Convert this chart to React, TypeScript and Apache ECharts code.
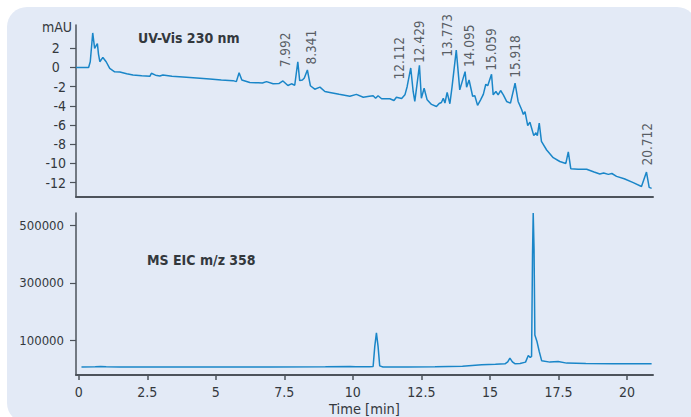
import React, { useEffect, useRef } from "react";
import * as echarts from "echarts";

// ---------- data ----------
// UV-Vis 230 nm trace: [time (min), absorbance (mAU)]
const uvTrace: [number, number][] = [
  [-0.1, 0.0], [0.36, 0.0], [0.42, 0.6], [0.51, 3.6], [0.58, 2.0], [0.62, 2.2], [0.68, 2.5],
  [0.72, 1.4], [0.77, 0.6], [0.88, 1.05], [1.0, 0.6], [1.13, -0.1], [1.31, -0.45], [1.5, -0.47],
  [1.75, -0.65], [1.98, -0.78], [2.3, -0.85], [2.6, -0.9], [2.65, -0.6], [2.8, -0.8], [2.96, -0.88],
  [3.07, -0.78], [3.4, -0.92], [3.8, -1.0], [4.3, -1.1], [4.78, -1.2], [5.2, -1.3], [5.63, -1.37],
  [5.75, -1.47], [5.85, -0.54], [5.95, -1.3], [6.24, -1.57], [6.55, -1.6], [6.7, -1.62], [6.85, -1.47],
  [7.09, -1.7], [7.3, -1.68], [7.45, -1.4], [7.63, -1.88], [7.76, -1.7], [7.88, -1.85], [7.992, 0.6],
  [8.06, -1.37], [8.16, -1.3], [8.23, -1.1], [8.341, -0.26], [8.45, -1.9], [8.61, -2.26], [8.8, -2.05],
  [8.98, -2.5], [9.16, -2.6], [9.5, -2.8], [9.89, -3.0], [10.13, -2.8], [10.38, -3.1], [10.6, -3.0],
  [10.74, -2.95], [10.83, -3.2], [10.92, -2.95], [11.05, -3.26], [11.35, -3.26], [11.5, -3.44],
  [11.59, -3.1], [11.78, -3.23], [11.9, -2.85], [11.98, -2.0], [12.112, -0.05], [12.2, -2.5],
  [12.26, -3.54], [12.33, -2.0], [12.429, 0.22], [12.5, -3.2], [12.6, -2.16], [12.71, -3.37],
  [12.87, -3.85], [13.05, -4.06], [13.15, -3.75], [13.23, -3.65], [13.3, -3.2], [13.36, -3.7],
  [13.44, -2.6], [13.54, -3.78], [13.62, -2.0], [13.773, 1.81], [13.9, -2.33], [14.095, -0.43],
  [14.15, -2.05], [14.24, -1.3], [14.37, -3.0], [14.45, -2.95], [14.55, -3.95], [14.66, -3.37],
  [14.76, -2.8], [14.85, -1.75], [14.92, -1.9], [15.059, -0.7], [15.12, -2.85], [15.22, -2.5],
  [15.3, -2.85], [15.39, -2.4], [15.49, -2.85], [15.61, -3.54], [15.75, -3.72], [15.918, -1.64],
  [16.03, -3.54], [16.16, -4.4], [16.22, -4.9], [16.28, -4.6], [16.38, -6.06], [16.46, -5.7],
  [16.6, -7.1], [16.68, -6.8], [16.73, -7.1], [16.8, -5.8], [16.88, -7.7], [17.07, -8.6],
  [17.31, -9.4], [17.55, -9.8], [17.77, -10.0], [17.86, -8.8], [17.95, -10.55], [18.22, -10.6],
  [18.53, -10.6], [18.8, -10.9], [19.01, -11.1], [19.15, -11.0], [19.32, -11.14], [19.45, -11.05],
  [19.62, -11.35], [19.9, -11.6], [20.23, -12.0], [20.53, -12.4], [20.712, -10.9], [20.81, -12.5],
  [20.9, -12.6],
];

// MS EIC m/z 358 trace: [time (min), intensity]
const msTrace: [number, number][] = [
  [0.1, 6000], [0.6, 6500], [0.8, 7500], [1.0, 6500], [1.5, 6000], [3.0, 6000], [5.0, 6000],
  [7.0, 6000], [9.0, 6500], [9.9, 7500], [10.1, 6500], [10.6, 6500], [10.74, 8000], [10.8, 78000],
  [10.86, 125400], [10.92, 78000], [10.98, 10000], [11.1, 6000], [12.0, 6000], [13.0, 6500],
  [14.0, 8500], [14.7, 13500], [15.2, 15500], [15.55, 17000], [15.65, 24000], [15.73, 36700],
  [15.82, 24000], [15.91, 17500], [16.1, 18500], [16.3, 23000], [16.4, 46000], [16.47, 39000],
  [16.52, 43000], [16.555, 400000], [16.58, 544000], [16.61, 420000], [16.64, 118000],
  [16.72, 94000], [16.8, 60000], [16.89, 27400], [17.19, 23000], [17.49, 25400], [17.8, 19500],
  [18.5, 18500], [19.5, 17500], [20.9, 17000],
];

// labelled UV peaks (retention times)
const uvPeakTimes: number[] = [7.992, 8.341, 12.112, 12.429, 13.773, 14.095, 15.059, 15.918, 20.712];
const uvPeakLabels: string[] = ["7.992", "8.341", "12.112", "12.429", "13.773", "14.095", "15.059", "15.918", "20.712"];

// axis ticks
const xTickValues: number[] = [0, 2.5, 5, 7.5, 10, 12.5, 15, 17.5, 20];
const xTickLabels: string[] = ["0", "2.5", "5", "7.5", "10", "12.5", "15", "17.5", "20"];
const uvTickValues: number[] = [-12, -10, -8, -6, -4, -2, 0, 2];
const msTickValues: number[] = [100000, 300000, 500000];

// ---------- layout / style ----------
const labelOffsets: [number, number][] = [
  [-12, 6], [4, -5], [-11, 12], [0, -2], [-9, 7], [4, -4], [0, -3], [0, -5], [1, -6],
];
const FONT = '"Liberation Sans Narrow", "Arial Narrow", "DejaVu Sans Condensed", sans-serif';
const LINE = "#1a86c8";
const AXIS = "#4d535b";
const TEXT = "#33383d";
const PANEL = "#e3eaf6";

export default function App() {
  const ref = useRef<HTMLDivElement>(null);

  useEffect(() => {
    if (!ref.current) return;
    const chart = echarts.init(ref.current, undefined, { renderer: "svg" });

    const peakPoints = uvPeakTimes.map((t, i) => {
      const found = uvTrace.find((p) => Math.abs(p[0] - t) < 1e-6);
      return {
        value: [t, found ? found[1] : 0],
        name: uvPeakLabels[i],
        label: { position: labelOffsets[i] },
      };
    });

    const option: any = {
      animation: false,
      title: [
        {
          text: "UV-Vis 230 nm",
          left: 138,
          top: 31,
          padding: 0,
          textStyle: { fontFamily: FONT, fontSize: 14, fontWeight: "bold", color: TEXT },
        },
        {
          text: "MS EIC m/z 358",
          left: 147,
          top: 253,
          padding: 0,
          textStyle: { fontFamily: FONT, fontSize: 14, fontWeight: "bold", color: TEXT },
        },
      ],
      grid: [
        { left: 76, right: 38, top: 25, height: 172 },
        { left: 76, right: 38, top: 213, height: 164 },
      ],
      xAxis: [
        {
          gridIndex: 0,
          type: "value",
          min: -0.1,
          max: 20.95,
          axisLine: { show: true, onZero: false, lineStyle: { color: AXIS, width: 2 } },
          axisTick: { show: false },
          axisLabel: { show: false },
          splitLine: { show: false },
        },
        {
          gridIndex: 1,
          type: "value",
          min: -0.1,
          max: 20.95,
          axisLine: { show: true, onZero: false, lineStyle: { color: AXIS, width: 2 } },
          axisTick: { show: true, customValues: xTickValues, length: 5, lineStyle: { color: AXIS, width: 1.5 } },
          axisLabel: {
            customValues: xTickValues,
            formatter: (v: number) => {
              const i = xTickValues.findIndex((x) => Math.abs(x - v) < 1e-6);
              return i >= 0 ? xTickLabels[i] : "";
            },
            fontFamily: FONT,
            fontSize: 14,
            color: TEXT,
            margin: 10,
          },
          splitLine: { show: false },
          name: "Time [min]",
          nameLocation: "middle",
          nameGap: 26,
          nameTextStyle: { fontFamily: FONT, fontSize: 14.5, color: TEXT },
        },
      ],
      yAxis: [
        {
          gridIndex: 0,
          type: "value",
          min: -13.5,
          max: 4.43,
          axisLine: { show: true, onZero: false, lineStyle: { color: AXIS, width: 1.5 } },
          axisTick: { show: true, customValues: uvTickValues, length: 6, lineStyle: { color: AXIS, width: 1.2 } },
          axisLabel: {
            customValues: uvTickValues,
            formatter: (v: number) => (v >= 0 ? String(v) + "\u2002" : String(v)),
            fontFamily: FONT,
            fontSize: 14,
            color: TEXT,
            margin: 10,
          },
          splitLine: { show: false },
          name: "mAU",
          nameLocation: "end",
          nameGap: -2,
          nameTextStyle: {
            fontFamily: FONT,
            fontSize: 14,
            color: TEXT,
            align: "right",
            verticalAlign: "middle",
            padding: [0, 4, 0, 0],
          },
        },
        {
          gridIndex: 1,
          type: "value",
          min: -22000,
          max: 544000,
          axisLine: { show: true, onZero: false, lineStyle: { color: AXIS, width: 1.5 } },
          axisTick: { show: true, customValues: msTickValues, length: 6, lineStyle: { color: AXIS, width: 1.2 } },
          axisLabel: {
            customValues: msTickValues,
            formatter: (v: number) => String(v),
            fontFamily: FONT,
            fontSize: 13,
            color: TEXT,
            margin: 12,
          },
          splitLine: { show: false },
        },
      ],
      series: [
        {
          type: "line",
          xAxisIndex: 0,
          yAxisIndex: 0,
          data: uvTrace,
          showSymbol: false,
          symbol: "none",
          lineStyle: { color: LINE, width: 1.5 },
          silent: true,
        },
        {
          type: "line",
          xAxisIndex: 1,
          yAxisIndex: 1,
          data: msTrace,
          showSymbol: false,
          symbol: "none",
          clip: false,
          lineStyle: { color: LINE, width: 1.5 },
          silent: true,
        },
        {
          type: "scatter",
          xAxisIndex: 0,
          yAxisIndex: 0,
          data: peakPoints,
          symbolSize: 1,
          itemStyle: { color: "rgba(0,0,0,0)" },
          silent: true,
          label: {
            show: true,
            formatter: (p: any) => p.name,
            rotate: 90,
            align: "left",
            verticalAlign: "middle",
            fontFamily: FONT,
            fontSize: 13.5,
            color: TEXT,
          },
        },
      ],
    };

    chart.setOption(option);
    return () => chart.dispose();
  }, []);

  return (
    <div style={{ position: "fixed", left: 0, top: 0, width: 691, height: 417, background: "#ffffff", overflow: "hidden" }}>
      <div
        style={{
          position: "absolute",
          left: 7,
          top: 7,
          width: 690,
          height: 416,
          background: PANEL,
          borderRadius: 20,
        }}
      />
      <div ref={ref} style={{ position: "absolute", left: 0, top: 0, width: 691, height: 417 }} />
    </div>
  );
}
